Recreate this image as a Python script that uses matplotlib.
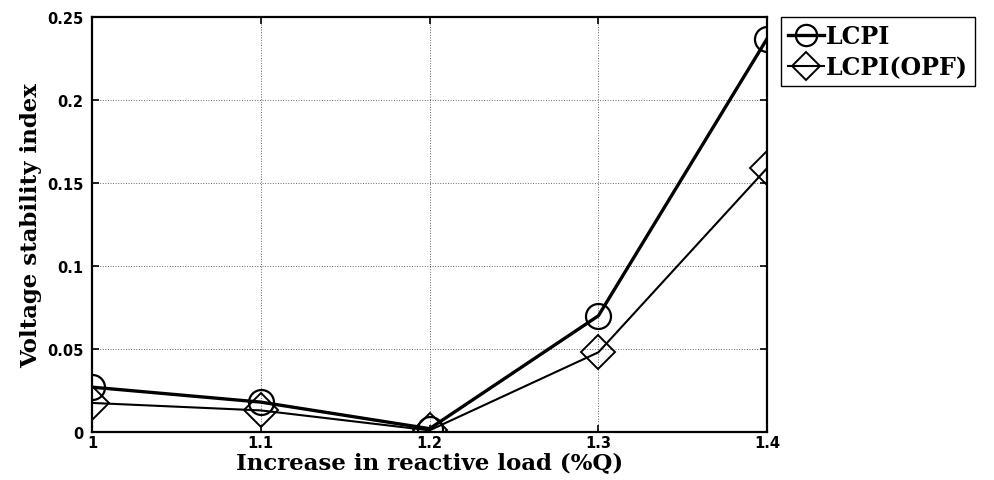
import matplotlib
matplotlib.use('Agg')
import matplotlib.pyplot as plt

# data
load = [1.0, 1.1, 1.2, 1.3, 1.4]
lcpi = [0.027, 0.018, 0.002, 0.070, 0.237]
lcpi_opf = [0.0175, 0.013, 0.001, 0.048, 0.159]

fig = plt.figure(figsize=(9.95, 4.81), dpi=100)
ax = fig.add_axes([0.0925, 0.0998, 0.6785, 0.8628])

ax.plot(load, lcpi, 'k-', marker='o', markersize=18, markerfacecolor='none',
        markeredgewidth=1.6, linewidth=2.4, label='LCPI')
ax.plot(load, lcpi_opf, 'k-', marker='D', markersize=17, markerfacecolor='none',
        markeredgewidth=1.4, linewidth=1.5, label='LCPI(OPF)')

ax.set_xlim(1, 1.4)
ax.set_ylim(0, 0.25)
ax.set_xticks(load)
ax.set_xticklabels(['1', '1.1', '1.2', '1.3', '1.4'])
ax.set_yticks([0, 0.05, 0.1, 0.15, 0.2, 0.25])
ax.set_yticklabels(['0', '0.05', '0.1', '0.15', '0.2', '0.25'])
ax.grid(True, linestyle=':', color='k', linewidth=0.7, alpha=0.6)
ax.tick_params(direction='in', top=True, right=True, length=5, width=1.2,
               labelsize=10.5)
ax.tick_params(axis='x', pad=2)
ax.tick_params(axis='y', pad=6)
for lab in ax.get_xticklabels() + ax.get_yticklabels():
    lab.set_fontweight('bold')
for s in ax.spines.values():
    s.set_linewidth(1.6)

ax.set_xlabel('Increase in reactive load (%Q)', fontsize=16.5, fontweight='bold',
              family='DejaVu Serif', labelpad=1)
ax.set_ylabel('Voltage stability index', fontsize=16.5, fontweight='bold',
              family='DejaVu Serif', labelpad=4)

leg = fig.legend(loc='upper left', bbox_to_anchor=(0.785, 0.963),
                 prop={'family': 'DejaVu Serif', 'weight': 'bold', 'size': 17},
                 handlelength=1.5, handletextpad=0.1, borderpad=0.3,
                 labelspacing=0.3, borderaxespad=0, fancybox=False,
                 edgecolor='k', framealpha=1, markerscale=0.85)
leg.get_frame().set_linewidth(1.0)

fig.savefig('out.png', dpi=100)
